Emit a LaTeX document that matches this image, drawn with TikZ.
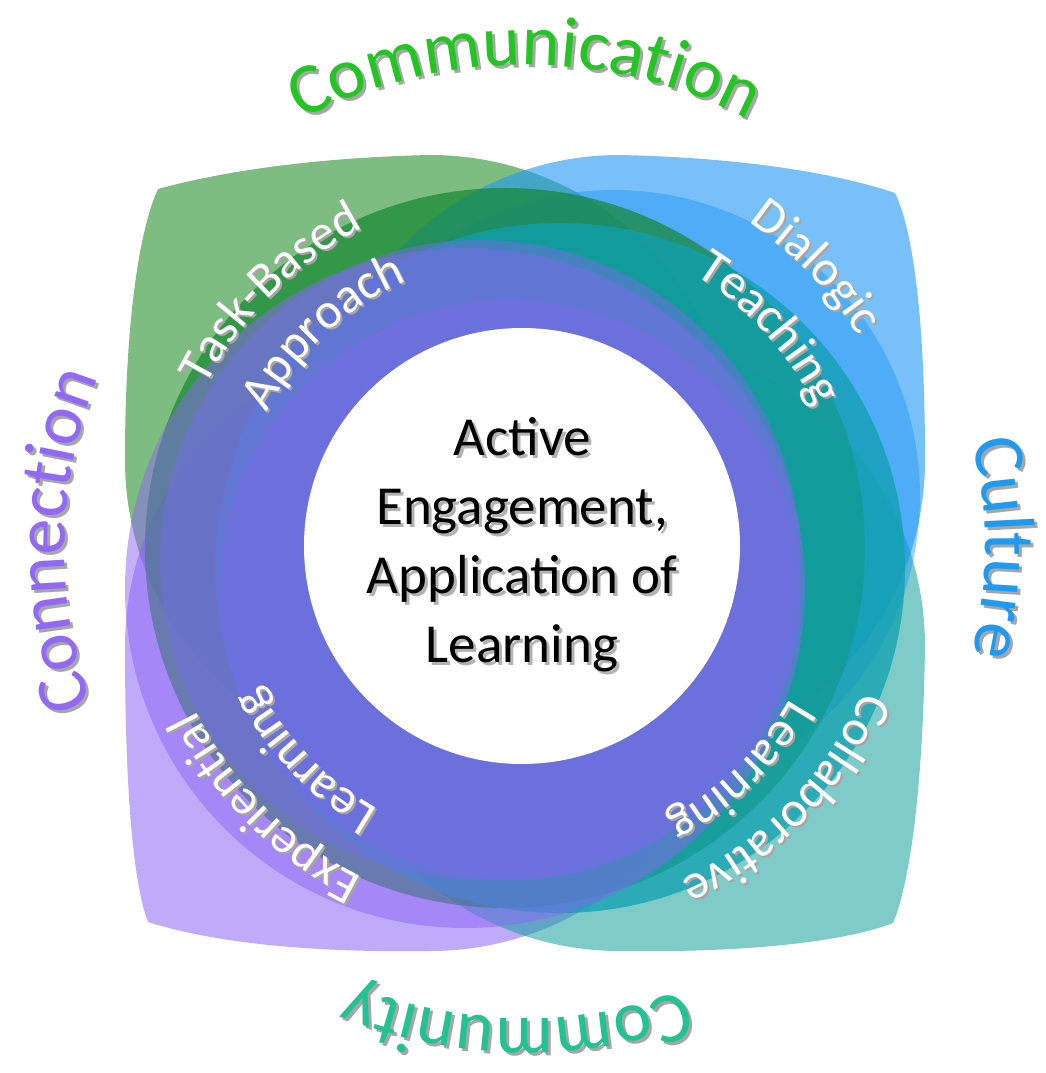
\documentclass[tikz,border=0pt]{standalone}
\usepackage{fontspec}
\setmainfont{Carlito}
\usetikzlibrary{decorations.text}
\definecolor{cgreen}{RGB}{40,145,45}
\definecolor{cblue}{RGB}{30,150,245}
\definecolor{cpurple}{RGB}{140,100,245}
\definecolor{cteal}{RGB}{20,160,155}
\definecolor{dgreen}{RGB}{20,135,50}
\definecolor{dteal}{RGB}{15,160,175}
\definecolor{ring}{RGB}{111,111,223}
\definecolor{lcomm}{RGB}{34,197,34}
\definecolor{lcult}{RGB}{30,155,240}
\definecolor{lcommu}{RGB}{32,195,145}
\definecolor{lconn}{RGB}{145,105,245}
\newcommand\arclabel[5]{%
  \path[decorate, decoration={text along path, text align=center, text color=#4,
    text={|\fontsize{#3}{#3}\selectfont|#5}}]
    ({#1+80}:#2) arc[start angle={#1+80}, end angle={#1-80}, radius=#2];}
\newcommand\shadowlabel[6]{%
  \begin{scope}[shift={(#6,-#6)}]\arclabel{#1}{#2}{#3}{black!35}{#5}\end{scope}%
  \arclabel{#1}{#2}{#3}{#4}{#5}}
\begin{document}
\begin{tikzpicture}[x=1pt,y=1pt]
\useasboundingbox (-525,-525) rectangle (520,548);
% teardrops
\fill[cgreen, opacity=.6] (-95,393) arc[start angle=90, end angle=-180, radius=305]
  .. controls (-400,230) and (-385,320) .. (-367,359)
  .. controls (-320,372) and (-230,390) .. cycle;
\fill[cblue, opacity=.6] (95,393) arc[start angle=90, end angle=360, radius=305]
  .. controls (400,230) and (388,318) .. (370,355)
  .. controls (320,372) and (230,390) .. cycle;
\fill[cpurple, opacity=.55] (-95,-403) arc[start angle=-90, end angle=180, radius=305]
  .. controls (-400,-240) and (-392,-335) .. (-377,-374)
  .. controls (-320,-392) and (-230,-405) .. cycle;
\fill[cteal, opacity=.55] (400,-98) arc[start angle=0, end angle=270, radius=305]
  .. controls (230,-405) and (325,-392) .. (368,-375)
  .. controls (385,-335) and (398,-240) .. cycle;
% middle circles
\fill[cblue, opacity=.45] (89,52) circle[radius=306];
\fill[dgreen, opacity=.7] (-20,0) circle[radius=360];
\fill[dteal, opacity=.75] (35,-20) circle[radius=345];
\fill[cpurple, opacity=.5] (-60,-40) circle[radius=340];
% purple ring
\fill[ring, opacity=.55] (-45,-12) circle[radius=320];
\fill[ring, opacity=.8] (-15,-42) circle[radius=290];
% white core
\fill[white] (-3,2) circle[radius=218];
\node[align=center, font=\fontsize{55}{69}\selectfont, text=black!30] (coreshadow) at (0,0) {Active\\Engagement,\\Application of\\Learning};
\node[align=center, font=\fontsize{55}{69}\selectfont] (core) at (-3,3) {Active\\Engagement,\\Application of\\Learning};
% inner labels
\shadowlabel{135}{358}{50}{white}{Task-Based}{2}
\shadowlabel{133}{292}{50}{white}{Approach}{2}
\shadowlabel{44}{395}{50}{white}{Dialogic}{2}
\shadowlabel{42}{322}{50}{white}{Teaching}{2}
\shadowlabel{225}{367}{50}{white}{Experiential}{2}
\shadowlabel{224}{300}{50}{white}{Learning}{2}
\shadowlabel{-44}{367}{50}{white}{Collaborative}{2}
\shadowlabel{-46}{305}{50}{white}{Learning}{2}
% outer labels
\shadowlabel{90}{483}{72}{lcomm}{Communication}{3}
\shadowlabel{0}{460}{72}{lcult}{Culture}{3}
\shadowlabel{-91}{470}{72}{lcommu}{Community}{3}
\shadowlabel{179}{460}{72}{lconn}{Connection}{3}
\end{tikzpicture}
\end{document}
